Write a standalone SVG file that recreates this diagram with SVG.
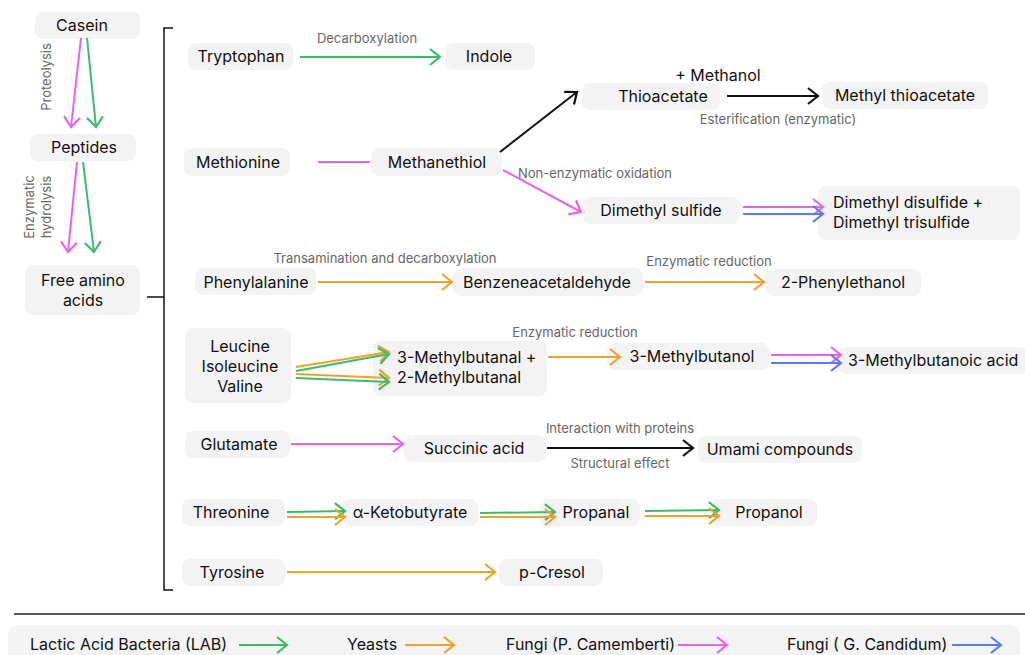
<svg xmlns="http://www.w3.org/2000/svg" width="1025" height="655" viewBox="0 0 1025 655">
  <style>
    .box { fill: #f3f3f3; }
    .t { font-family: Inter, "Liberation Sans", sans-serif; font-size: 16px; fill: #111; }
    .c { text-anchor: middle; }
    .lbl { font-family: Inter, "Liberation Sans", sans-serif; font-size: 13px; fill: #666; }
    .ln { fill: none; stroke-width: 2; }
    .g { stroke: #3dbb6b; }
    .o { stroke: #eca32b; }
    .m { stroke: #e763e8; }
    .b { stroke: #5b7cf0; }
    .k { stroke: #111; }
  </style>
  <defs>
    <marker id="ag" viewBox="-12 -10 14 20" refX="0" refY="0" markerWidth="14" markerHeight="20" markerUnits="userSpaceOnUse" orient="auto">
      <path d="M-10,-8 L0,0 L-10,8" fill="none" stroke="#3dbb6b" stroke-width="2.2"/>
    </marker>
    <marker id="ao" viewBox="-12 -10 14 20" refX="0" refY="0" markerWidth="14" markerHeight="20" markerUnits="userSpaceOnUse" orient="auto">
      <path d="M-10,-8 L0,0 L-10,8" fill="none" stroke="#eca32b" stroke-width="2.2"/>
    </marker>
    <marker id="am" viewBox="-12 -10 14 20" refX="0" refY="0" markerWidth="14" markerHeight="20" markerUnits="userSpaceOnUse" orient="auto">
      <path d="M-10,-8 L0,0 L-10,8" fill="none" stroke="#e763e8" stroke-width="2.2"/>
    </marker>
    <marker id="ab" viewBox="-12 -10 14 20" refX="0" refY="0" markerWidth="14" markerHeight="20" markerUnits="userSpaceOnUse" orient="auto">
      <path d="M-10,-8 L0,0 L-10,8" fill="none" stroke="#5b7cf0" stroke-width="2.2"/>
    </marker>
    <marker id="ak" viewBox="-12 -10 14 20" refX="0" refY="0" markerWidth="14" markerHeight="20" markerUnits="userSpaceOnUse" orient="auto">
      <path d="M-10,-8 L0,0 L-10,8" fill="none" stroke="#111" stroke-width="2.2"/>
    </marker>
  </defs>

  <rect width="1025" height="655" fill="#fff"/>

  <!-- Nodes -->
  <g id="casein"><rect class="box" x="35" y="12" width="105" height="27" rx="8"/><text class="t c" x="82" y="31">Casein</text></g>
  <g id="peptides"><rect class="box" x="30" y="134" width="106" height="27" rx="8"/><text class="t c" x="84" y="153">Peptides</text></g>
  <g id="free-amino-acids"><rect class="box" x="25" y="265" width="115" height="50" rx="8"/><text class="t c" x="83" y="286">Free amino</text><text class="t c" x="83" y="306">acids</text></g>

  <g id="tryptophan"><rect class="box" x="188" y="43" width="105" height="27" rx="8"/><text class="t c" x="241" y="62">Tryptophan</text></g>
  <g id="indole"><rect class="box" x="445" y="43" width="90" height="27" rx="8"/><text class="t c" x="489" y="62">Indole</text></g>

  <g id="methionine"><rect class="box" x="184" y="148" width="106" height="28" rx="8"/><text class="t c" x="238" y="168">Methionine</text></g>
  <g id="methanethiol"><rect class="box" x="371" y="148" width="131" height="28" rx="8"/><text class="t c" x="437" y="168">Methanethiol</text></g>
  <g id="thioacetate"><rect class="box" x="582" y="83" width="138" height="27" rx="8"/><text class="t c" x="663" y="102">Thioacetate</text></g>
  <g id="methyl-thioacetate"><rect class="box" x="822" y="82" width="166" height="27" rx="8"/><text class="t c" x="905" y="101">Methyl thioacetate</text></g>
  <g id="dimethyl-sulfide"><rect class="box" x="582" y="197" width="158" height="27" rx="8"/><text class="t c" x="661" y="216">Dimethyl sulfide</text></g>
  <g id="dimethyl-di-trisulfide"><rect class="box" x="818" y="186" width="202" height="54" rx="8"/><text class="t" x="833" y="208">Dimethyl disulfide +</text><text class="t" x="833" y="228">Dimethyl trisulfide</text></g>

  <g id="phenylalanine"><rect class="box" x="195" y="268" width="121" height="27" rx="8"/><text class="t c" x="256" y="288">Phenylalanine</text></g>
  <g id="benzeneacetaldehyde"><rect class="box" x="453" y="268" width="190" height="28" rx="8"/><text class="t c" x="547" y="288">Benzeneacetaldehyde</text></g>
  <g id="phenylethanol"><rect class="box" x="765" y="269" width="156" height="27" rx="8"/><text class="t c" x="843" y="288">2-Phenylethanol</text></g>

  <g id="leucine-isoleucine-valine"><rect class="box" x="185" y="328" width="106" height="75" rx="8"/><text class="t c" x="240" y="352">Leucine</text><text class="t c" x="240" y="372">Isoleucine</text><text class="t c" x="240" y="392">Valine</text></g>
  <g id="methylbutanals"><rect class="box" x="373" y="341" width="174" height="55" rx="8"/><text class="t" x="397" y="363">3-Methylbutanal +</text><text class="t" x="397" y="383">2-Methylbutanal</text></g>
  <g id="methylbutanol"><rect class="box" x="607" y="343" width="162" height="27" rx="8"/><text class="t c" x="692" y="362">3-Methylbutanol</text></g>
  <g id="methylbutanoic-acid"><rect class="box" x="838" y="347" width="190" height="27" rx="8"/><text class="t" x="848" y="366">3-Methylbutanoic acid</text></g>

  <g id="glutamate"><rect class="box" x="185" y="431" width="105" height="27" rx="8"/><text class="t c" x="239" y="450">Glutamate</text></g>
  <g id="succinic-acid"><rect class="box" x="404" y="435" width="142" height="27" rx="8"/><text class="t c" x="474" y="454">Succinic acid</text></g>
  <g id="umami-compounds"><rect class="box" x="698" y="436" width="164" height="27" rx="8"/><text class="t c" x="780" y="455">Umami compounds</text></g>

  <g id="threonine"><rect class="box" x="182" y="499" width="103" height="27" rx="8"/><text class="t c" x="231" y="518">Threonine</text></g>
  <g id="ketobutyrate"><rect class="box" x="342" y="499" width="136" height="27" rx="8"/><text class="t c" x="410" y="518">α-Ketobutyrate</text></g>
  <g id="propanal"><rect class="box" x="540" y="499" width="100" height="27" rx="8"/><text class="t c" x="596" y="518">Propanal</text></g>
  <g id="propanol"><rect class="box" x="712" y="499" width="105" height="27" rx="8"/><text class="t c" x="769" y="518">Propanol</text></g>

  <g id="tyrosine"><rect class="box" x="182" y="559" width="103" height="27" rx="8"/><text class="t c" x="232" y="578">Tyrosine</text></g>
  <g id="p-cresol"><rect class="box" x="499" y="559" width="104" height="27" rx="8"/><text class="t c" x="552" y="578">p-Cresol</text></g>

  <!-- Connectors -->
  <g id="connectors">
    <!-- bracket grouping the amino acids -->
    <path d="M173,28 H164 V590 H173 M147,297 H164" fill="none" stroke="#111" stroke-width="1.5"/>

    <line class="ln m" x1="81" y1="38" x2="71" y2="127" marker-end="url(#am)"/>
    <line class="ln g" x1="87" y1="38" x2="96" y2="127" marker-end="url(#ag)"/>
    <line class="ln m" x1="77" y1="162" x2="68" y2="252" marker-end="url(#am)"/>
    <line class="ln g" x1="83" y1="162" x2="94" y2="252" marker-end="url(#ag)"/>

    <line class="ln g" x1="300" y1="57" x2="440" y2="57" marker-end="url(#ag)"/>

    <line class="ln m" x1="318" y1="162" x2="370" y2="162"/>
    <line class="ln k" x1="500" y1="152" x2="577" y2="92" marker-end="url(#ak)"/>
    <line class="ln k" x1="727" y1="96" x2="818" y2="96" marker-end="url(#ak)"/>
    <line class="ln m" x1="503" y1="170" x2="581" y2="212" marker-end="url(#am)"/>
    <line class="ln m" x1="743" y1="207" x2="823" y2="207" marker-end="url(#am)"/>
    <line class="ln b" x1="743" y1="214" x2="823" y2="214" marker-end="url(#ab)"/>

    <line class="ln o" x1="318" y1="282" x2="452" y2="282" marker-end="url(#ao)"/>
    <line class="ln o" x1="645" y1="282" x2="764" y2="282" marker-end="url(#ao)"/>

    <line class="ln o" x1="296" y1="367" x2="389" y2="352" marker-end="url(#ao)"/>
    <line class="ln g" x1="296" y1="371" x2="389" y2="354" marker-end="url(#ag)"/>
    <line class="ln o" x1="296" y1="374" x2="389" y2="378" marker-end="url(#ao)"/>
    <line class="ln g" x1="296" y1="378" x2="389" y2="382" marker-end="url(#ag)"/>
    <line class="ln o" x1="548" y1="357" x2="620" y2="357" marker-end="url(#ao)"/>
    <line class="ln m" x1="771" y1="355" x2="841" y2="355" marker-end="url(#am)"/>
    <line class="ln b" x1="771" y1="363" x2="841" y2="363" marker-end="url(#ab)"/>

    <line class="ln m" x1="291" y1="444" x2="403" y2="444" marker-end="url(#am)"/>
    <line class="ln k" x1="547" y1="448" x2="693" y2="448" marker-end="url(#ak)"/>

    <line class="ln g" x1="287" y1="512" x2="345" y2="511" marker-end="url(#ag)"/>
    <line class="ln o" x1="287" y1="517" x2="345" y2="517" marker-end="url(#ao)"/>
    <line class="ln g" x1="480" y1="513" x2="555" y2="512" marker-end="url(#ag)"/>
    <line class="ln o" x1="480" y1="517" x2="555" y2="517" marker-end="url(#ao)"/>
    <line class="ln g" x1="645" y1="511" x2="719" y2="510" marker-end="url(#ag)"/>
    <line class="ln o" x1="645" y1="516" x2="719" y2="516" marker-end="url(#ao)"/>

    <line class="ln o" x1="287" y1="572" x2="495" y2="572" marker-end="url(#ao)"/>
  </g>

  <!-- Connector labels -->
  <g id="labels">
    <text class="lbl c" transform="translate(51,77) rotate(-90)">Proteolysis</text>
    <text class="lbl c" transform="translate(34,207) rotate(-90)">Enzymatic</text>
    <text class="lbl c" transform="translate(51,207) rotate(-90)">hydrolysis</text>
    <text class="lbl c" x="367" y="43">Decarboxylation</text>
    <text class="t c" x="718" y="81">+ Methanol</text>
    <text class="lbl c" x="778" y="124">Esterification (enzymatic)</text>
    <text class="lbl" x="518" y="178">Non-enzymatic oxidation</text>
    <text class="lbl c" x="385" y="263">Transamination and decarboxylation</text>
    <text class="lbl c" x="709" y="266">Enzymatic reduction</text>
    <text class="lbl c" x="575" y="337">Enzymatic reduction</text>
    <text class="lbl c" x="620" y="433">Interaction with proteins</text>
    <text class="lbl c" x="620" y="468">Structural effect</text>
  </g>

  <!-- Legend -->
  <line x1="14" y1="614" x2="1025" y2="614" stroke="#222" stroke-width="1.5"/>
  <g id="legend">
    <rect class="box" x="8" y="625" width="1012" height="45" rx="10"/>
    <text class="t" x="30" y="650">Lactic Acid Bacteria (LAB)</text>
    <line class="ln g" x1="239" y1="645" x2="287" y2="645" marker-end="url(#ag)"/>
    <text class="t" x="347" y="650">Yeasts</text>
    <line class="ln o" x1="405" y1="645" x2="454" y2="645" marker-end="url(#ao)"/>
    <text class="t" x="506" y="650">Fungi (P. Camemberti)</text>
    <line class="ln m" x1="678" y1="645" x2="727" y2="645" marker-end="url(#am)"/>
    <text class="t" x="787" y="650">Fungi ( G. Candidum)</text>
    <line class="ln b" x1="952" y1="645" x2="1001" y2="645" marker-end="url(#ab)"/>
  </g>
</svg>
